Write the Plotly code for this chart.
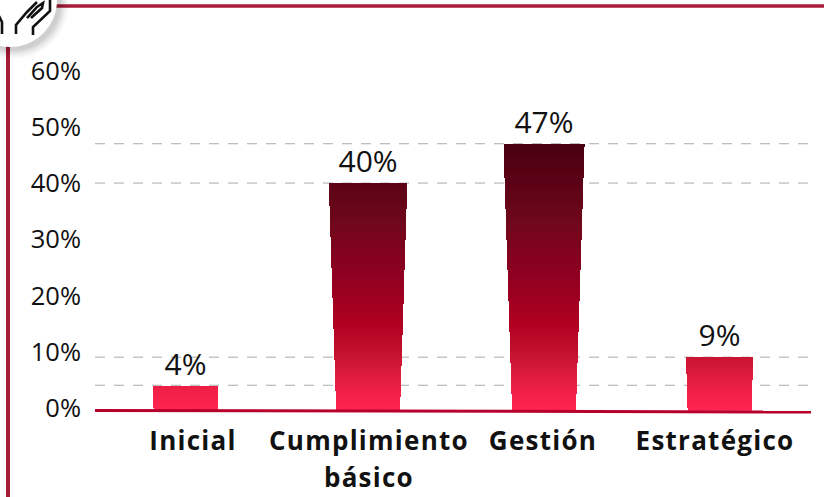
import plotly.graph_objects as go

# ---- data ----
CATEGORIES = ["Inicial", "Cumplimiento<br>básico", "Gestión", "Estratégico"]
VALUES = [4, 40, 47, 9]
Y_TICKS = [0, 10, 20, 30, 40, 50, 60]

# ---- page geometry and styles ----
W, H = 824, 497
X_LEFT, X_RIGHT = 95, 813
Y_ZERO, Y_SIXTY = 408, 71
PX_PER_PCT = (Y_ZERO - Y_SIXTY) / 60
UNIT = 177
ORIGIN = 190
BAR_NUDGE = [-0.025, 0.006, 0.0, -0.008]
TICK_NUDGE = [0.017, 0.011, -0.006, -0.034]
STOPS = [(0, (255, 36, 80)), (4, (234, 31, 69)), (9, (200, 20, 50)), (15, (176, 0, 32)),
         (25, (138, 0, 32)), (33, (112, 8, 28)), (40, (92, 2, 22)), (47, (74, 0, 16))]
BAND = 0.5
BOTTOM = -0.5
RED = "#a81c38"
FONT = "Open Sans"


def px(x):
    return x / W


def py(y):
    return 1 - y / H


def colour(v):
    v = max(0, min(47, v))
    for (a, ca), (b, cb) in zip(STOPS, STOPS[1:]):
        if v <= b:
            t = (v - a) / (b - a)
            return "rgb(%d,%d,%d)" % tuple(round(p + (q - p) * t) for p, q in zip(ca, cb))
    return "rgb(74,0,16)"


def bar_width(v):
    return (64 + 17 * max(v, 0) / 47) / UNIT


xs = [i + n for i, n in enumerate(BAR_NUDGE)]
fig = go.Figure()

low = BOTTOM
while low < max(VALUES):
    keep = [i for i, v in enumerate(VALUES) if v > low]
    tops = [min(VALUES[i], low + BAND) for i in keep]
    fig.add_trace(go.Bar(
        x=[xs[i] for i in keep],
        base=[low] * len(keep),
        y=[t - low + (0.03 if t < VALUES[i] else 0) for t, i in zip(tops, keep)],
        width=[bar_width(t) for t in tops],
        marker=dict(color=colour(low + BAND / 2), line=dict(width=0)),
        hoverinfo="skip", showlegend=False,
    ))
    low += BAND

fig.add_trace(go.Scatter(
    x=xs, y=VALUES, mode="markers+text", text=[f"{v}%" for v in VALUES],
    textposition="top center",
    marker=dict(size=4, opacity=0),
    textfont=dict(family=FONT, size=30, color="#111111"),
    hoverinfo="skip", showlegend=False, cliponaxis=False,
))

shapes = []
for v in VALUES:
    shapes.append(dict(type="line", xref="paper", yref="y", x0=px(X_LEFT), x1=px(X_RIGHT), y0=v + 0.05, y1=v + 0.05,
                       line=dict(color="#aaaaaa", width=1, dash="10px,9px"), layer="below"))
# frame
shapes.append(dict(type="line", xref="paper", yref="paper", x0=px(50), x1=1, y0=py(6), y1=py(6),
                   line=dict(color=RED, width=3.5)))
shapes.append(dict(type="line", xref="paper", yref="paper", x0=px(8), x1=px(8), y0=py(40), y1=0,
                   line=dict(color=RED, width=4)))
# baseline
shapes.append(dict(type="line", xref="paper", yref="paper", x0=px(95), x1=px(811), y0=py(410.5), y1=py(412),
                   line=dict(color="#b8002c", width=3)))
# badge shadow and disc
cx, cy, r = 10, 0, 47
for grow, alpha in [(9, 0.02), (7, 0.03), (5, 0.04), (3, 0.05), (1, 0.06)]:
    shapes.append(dict(type="circle", xref="paper", yref="paper",
                       x0=px(cx + 3 - r - grow), x1=px(cx + 3 + r + grow),
                       y0=py(cy + 3 + r + grow), y1=py(cy + 3 - r - grow),
                       fillcolor=f"rgba(0,0,0,{alpha})", line=dict(width=0)))
shapes.append(dict(type="circle", xref="paper", yref="paper",
                   x0=px(cx - r), x1=px(cx + r), y0=py(cy + r), y1=py(cy - r),
                   fillcolor="white", line=dict(width=0)))
# hands icon
ICON = [
    [(16, 34), (16, 25), (27, 12), (37, 2)],
    [(33, 35), (33, 27), (50, 11), (50, 0)],
    [(27, 18), (37, 7), (43, 3), (42, 8), (31, 18)],
    [(-1, 16), (2, 22), (2, 34)],
]
for pts in ICON:
    path = "M " + " L ".join(f"{px(a):.5f},{py(b):.5f}" for a, b in pts)
    shapes.append(dict(type="path", xref="paper", yref="paper", path=path,
                       line=dict(color="#111111", width=2.6)))

fig.update_layout(
    width=W, height=H, autosize=False,
    margin=dict(l=0, r=0, t=0, b=0, pad=0),
    paper_bgcolor="white", plot_bgcolor="white",
    barmode="overlay", bargap=0,
    shapes=shapes, showlegend=False,
    font=dict(family=FONT),
    xaxis=dict(
        automargin=False,
        domain=[px(X_LEFT), px(X_RIGHT)],
        range=[(X_LEFT - ORIGIN) / UNIT, (X_RIGHT - ORIGIN) / UNIT],
        tickmode="array",
        tickvals=[i + n for i, n in enumerate(TICK_NUDGE)],
        ticktext=CATEGORIES,
        tickangle=0,
        tickfont=dict(family=FONT, size=26, color="#111111", weight=700),
        showgrid=False, zeroline=False, showline=False, ticks="",
        ticklabelstandoff=12,
    ),
    yaxis=dict(
        automargin=False,
        domain=[py(Y_ZERO - BOTTOM * PX_PER_PCT), py(Y_SIXTY)],
        range=[BOTTOM, 60],
        tickmode="array",
        tickvals=Y_TICKS,
        ticktext=[f"{t}%" for t in Y_TICKS],
        tickfont=dict(family=FONT, size=25.5, color="#111111"),
        showgrid=False, zeroline=False, showline=False, ticks="",
        ticklabelstandoff=13,
    ),
)

POST = """
document.body.style.margin = '0';
var st = document.createElement('style');
st.textContent = '.xtick text { letter-spacing: 1.25px; }';
document.head.appendChild(st);
document.querySelectorAll('.xtick text tspan.line').forEach(function (t) {
    if (t.previousElementSibling) {
        t.setAttribute('y', parseFloat(t.getAttribute('y')) + 3);
    }
});
"""
fig.write_html("out.html", config=dict(displayModeBar=False), post_script=POST)
